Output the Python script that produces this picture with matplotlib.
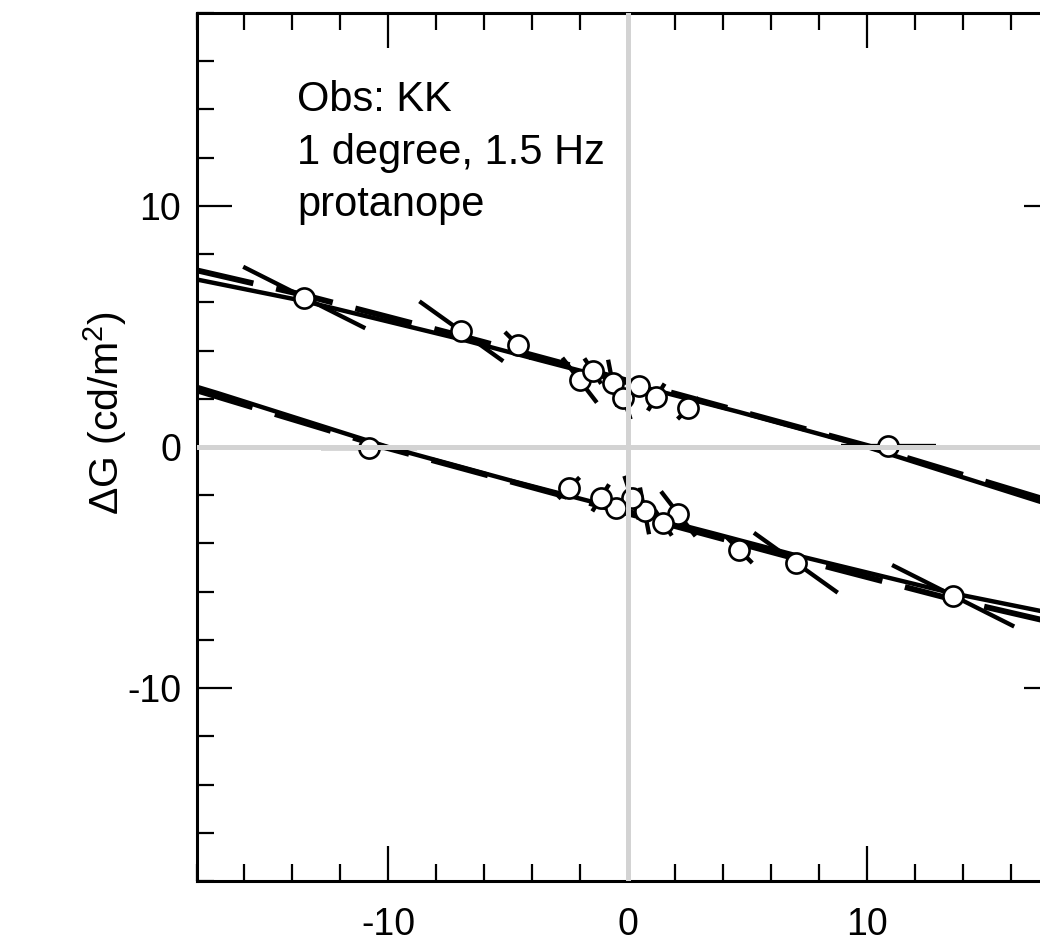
import numpy as np
import matplotlib
matplotlib.use("Agg")
import matplotlib.pyplot as plt
from matplotlib.ticker import MultipleLocator

plt.rcParams['font.family'] = ['Liberation Sans', 'DejaVu Sans']
plt.rcParams['mathtext.default'] = 'regular'
plt.rcParams['axes.unicode_minus'] = False

# upper branch (points, local slope, half extent in x of the slope segment)
up_x = [-13.5, -6.94, -4.57, -2.0, -1.45, -0.62, -0.17, 0.5, 1.2, 2.54, 10.9]
up_y = [6.2, 4.8, 4.22, 2.77, 3.15, 2.65, 2.05, 2.52, 2.07, 1.6, 0.04]
up_slope = [-0.50, -0.71, -1.0, -1.29, -1.5, -5.1, -3.0, -0.3, 1.6, 0.98, 0.0]
up_dx = [2.55, 1.75, 0.55, 0.72, 0.35, 0.19, 0.3, 0.3, 0.35, 0.45, 2.0]

# lower branch
lo_x = [13.6, 7.03, 4.66, 2.12, 1.5, 0.71, 0.17, -0.46, -1.12, -2.45, -10.8]
lo_y = [-6.17, -4.8, -4.26, -2.77, -3.15, -2.65, -2.1, -2.53, -2.11, -1.70, -0.04]
lo_slope = [-0.50, -0.71, -1.0, -1.29, -1.5, -5.1, -3.0, -0.3, 1.6, 0.98, 0.0]
lo_dx = [2.55, 1.75, 0.55, 0.72, 0.35, 0.19, 0.3, 0.3, 0.35, 0.45, 2.0]

up_fit_x = [-18, -13.5, -7, -3.66, 4.66, 10, 17.13, 18]
up_fit_y = [6.95, 6.05, 4.48, 3.6, 1.45, 0.0, -2.24, -2.5]
up_dash_x = [-18, -13.5, -7, 0, 10, 18]
up_dash_y = [7.33, 6.3, 4.62, 2.75, 0.05, -2.35]

lo_fit_x = [18, 13.5, 7, 3.66, -4.66, -10, -17.13, -18]
lo_fit_y = [-6.95, -6.05, -4.48, -3.6, -1.45, 0.0, 2.24, 2.5]
lo_dash_x = [18, 13.5, 7, 0, -10, -18]
lo_dash_y = [-7.33, -6.3, -4.62, -2.75, -0.05, 2.35]

info_lines = ["Obs: KK", "1 degree, 1.5 Hz", "protanope"]
info_y = [13.95, 11.75, 9.6]

fig = plt.figure(figsize=(10.4, 9.51), dpi=100)
ax = fig.add_axes([196.5/1040, 70/951, 862/1040, 868/951])
ax.set_xlim(-18, 18)
ax.set_ylim(-18, 18)

for fx, fy in [(up_fit_x, up_fit_y), (lo_fit_x, lo_fit_y)]:
    ax.plot(fx, fy, color='black', lw=3.2, solid_capstyle='butt', solid_joinstyle='round', zorder=2)
for fx, fy in [(up_dash_x, up_dash_y), (lo_dash_x, lo_dash_y)]:
    ax.plot(fx, fy, color='black', lw=4.2, dashes=(10, 4), dash_capstyle='butt', zorder=2)

for xs, ys, sl, dx in [(up_x, up_y, up_slope, up_dx), (lo_x, lo_y, lo_slope, lo_dx)]:
    for x0, y0, m, d in zip(xs, ys, sl, dx):
        ax.plot([x0 - d, x0 + d], [y0 - m*d, y0 + m*d], color='black', lw=3.1,
                solid_capstyle='butt', zorder=2)
    ax.plot(xs, ys, 'o', ms=14.5, mfc='white', mec='black', mew=1.9, zorder=3)

ax.axhline(0, color='#d3d3d3', lw=3.6, zorder=4)
ax.axvline(0, color='#d3d3d3', lw=3.6, zorder=4)

for t, yy in zip(info_lines, info_y):
    ax.text(-13.8, yy, t, fontsize=30, va='baseline', ha='left')

ax.xaxis.set_major_locator(MultipleLocator(10))
ax.xaxis.set_minor_locator(MultipleLocator(2))
ax.yaxis.set_major_locator(MultipleLocator(10))
ax.yaxis.set_minor_locator(MultipleLocator(2))
ax.tick_params(which='both', direction='in', top=True, right=True, width=1.6, labelsize=27)
ax.tick_params(which='major', length=25)
ax.tick_params(which='minor', length=12.5)
ax.tick_params(axis='x', pad=19)
ax.tick_params(axis='y', pad=11)
for s in ax.spines.values():
    s.set_linewidth(2.2)

fig.text(105/1040, 1 - 413/951, r'$\Delta$G (cd/m$^2$)', fontsize=29.5, rotation=90,
         ha='center', va='center')

fig.savefig('out.png', dpi=100)
